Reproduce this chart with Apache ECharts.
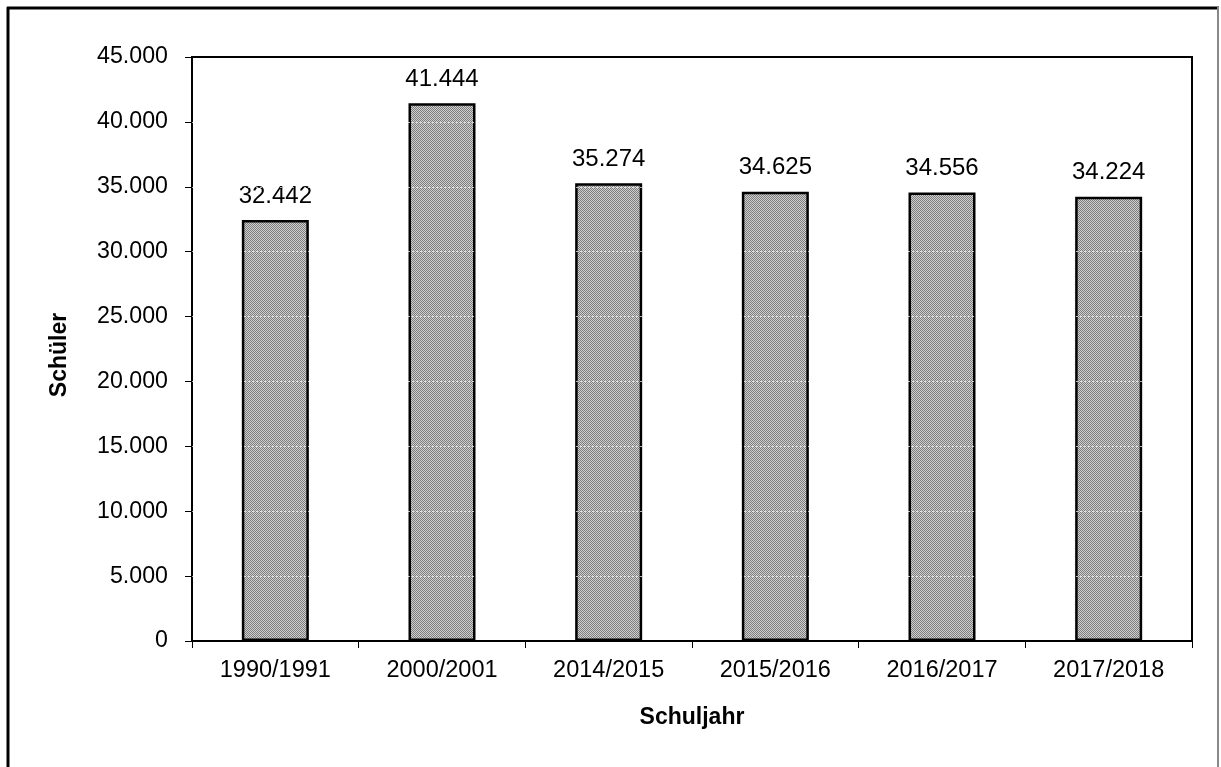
<!DOCTYPE html>
<html>
<head>
<meta charset="utf-8">
<script src="https://cdn.jsdelivr.net/npm/echarts@6/dist/echarts.min.js"></script>
<style>
    html, body { margin: 0; padding: 0; background: #fff; }
    #chart { width: 1221px; height: 767px; }
</style>
</head>
<body>
<div id="chart"></div>
<script>
    // Schüler je Schuljahr
    const categories = ['1990/1991', '2000/2001', '2014/2015', '2015/2016', '2016/2017', '2017/2018'];
    const students = [32442, 41444, 35274, 34625, 34556, 34224];
    const yTicks = { min: 0, max: 45000, interval: 5000 };

    // 1.234 style numbers
    function fmt(v) {
        return String(v).replace(/\B(?=(\d{3})+(?!\d))/g, '.');
    }

    // checker pattern like the excel fill
    function makePattern() {
        const c = document.createElement('canvas');
        c.width = 4;
        c.height = 4;
        const ctx = c.getContext('2d');
        ctx.fillStyle = '#cfcfcf';
        ctx.fillRect(0, 0, 4, 4);
        ctx.fillStyle = '#7d7d7d';
        for (let y = 0; y < 4; y++) {
            for (let x = 0; x < 4; x++) {
                if ((x + y) % 2 === 0) ctx.fillRect(x, y, 1, 1);
            }
        }
        return c;
    }

    // white dotted gridlines, they only show up on the bars
    const gridValues = [];
    for (let v = yTicks.min + yTicks.interval; v < yTicks.max; v += yTicks.interval) {
        gridValues.push({ yAxis: v });
    }

    const font = '"Liberation Sans", Arial, sans-serif';
    const chart = echarts.init(document.getElementById('chart'));

    chart.setOption({
        animation: false,
        textStyle: { fontFamily: font },
        grid: {
            left: 192,
            right: 29,
            top: 57,
            bottom: 126,
            show: true,
            borderColor: '#000',
            borderWidth: 2
        },
        graphic: [
            { type: 'line', shape: { x1: 8, y1: 7, x2: 8, y2: 767 }, style: { stroke: '#000', lineWidth: 3 } },
            { type: 'line', shape: { x1: 7, y1: 8, x2: 1219, y2: 8 }, style: { stroke: '#000', lineWidth: 3 } },
            { type: 'line', shape: { x1: 1218, y1: 7, x2: 1218, y2: 767 }, style: { stroke: '#888', lineWidth: 2 } }
        ],
        xAxis: {
            type: 'category',
            data: categories,
            name: 'Schuljahr',
            nameLocation: 'middle',
            nameGap: 65,
            nameTextStyle: { fontSize: 23, fontWeight: 'bold', color: '#000' },
            axisLine: { lineStyle: { color: '#000', width: 2 } },
            axisTick: { show: true, length: 7, lineStyle: { color: '#000', width: 1 } },
            axisLabel: { fontSize: 23.5, color: '#000', margin: 18 },
            splitLine: { show: false }
        },
        yAxis: {
            type: 'value',
            min: yTicks.min,
            max: yTicks.max,
            interval: yTicks.interval,
            name: 'Schüler',
            nameLocation: 'middle',
            nameGap: 121,
            nameTextStyle: { fontSize: 23, fontWeight: 'bold', color: '#000', padding: [0, 12, 0, 0] },
            axisLine: { show: true, lineStyle: { color: '#000', width: 2 } },
            axisTick: { show: true, length: 7, lineStyle: { color: '#000', width: 1 } },
            axisLabel: { fontSize: 23.2, color: '#000', margin: 24, formatter: fmt },
            splitLine: { show: false }
        },
        series: [{
            type: 'bar',
            data: students,
            barWidth: 67,
            itemStyle: {
                color: { image: makePattern(), repeat: 'repeat' },
                borderColor: '#000',
                borderWidth: 2.5
            },
            label: {
                show: true,
                position: 'top',
                distance: 12,
                fontSize: 24,
                color: '#000',
                formatter: p => fmt(p.value)
            },
            markLine: {
                silent: true,
                symbol: 'none',
                label: { show: false },
                lineStyle: { color: '#ffffff', type: [2, 2], width: 1, opacity: 0.7 },
                data: gridValues
            }
        }]
    });
</script>
</body>
</html>
